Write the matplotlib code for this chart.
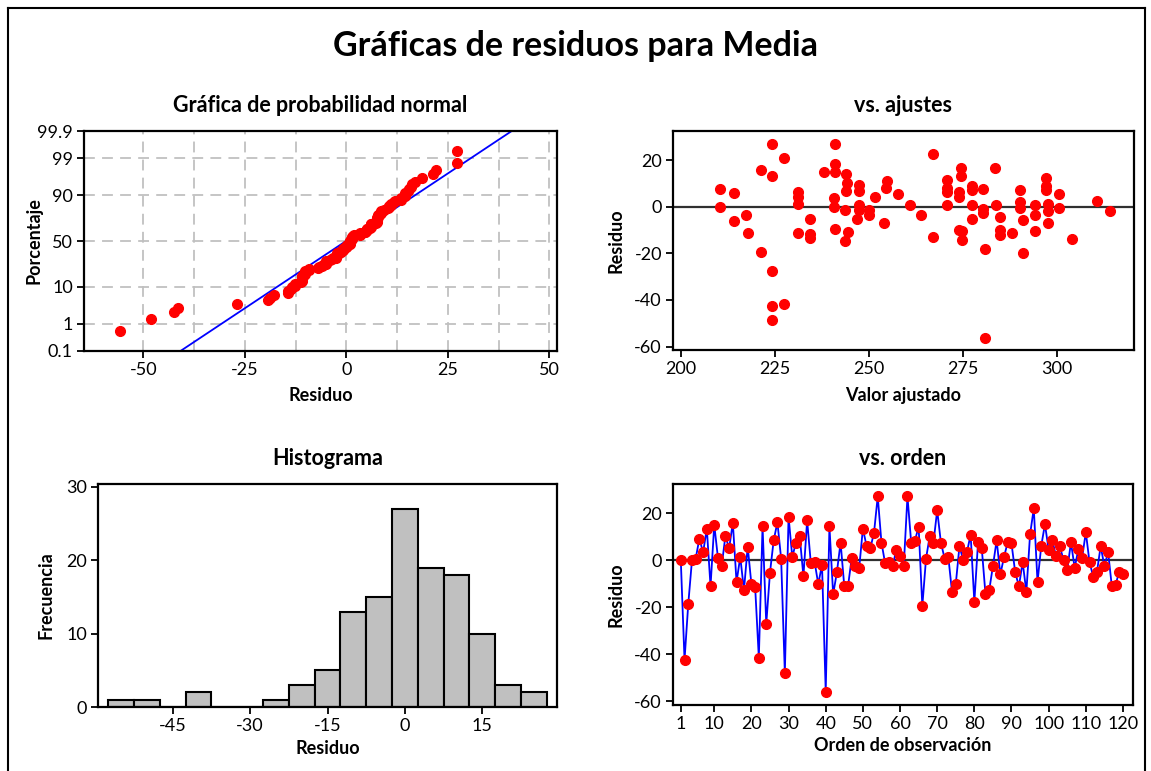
import matplotlib
matplotlib.use("Agg")
import matplotlib.pyplot as plt
from matplotlib.lines import Line2D
import numpy as np
from statistics import NormalDist

plt.rcParams["font.family"] = ["Lato", "DejaVu Sans"]
plt.rcParams["axes.unicode_minus"] = False

# residuals in observation order (read from "vs. orden")
residuos = [
    0, -42.4, -18.7, 0, 0.7, 9.3, 3.4, 13.5, -11, 15.2,
    1, -2.4, 10.4, 5.1, 16, -9.2, 1.5, -12.7, 5.9, -10.1,
    -11.1, -41.4, 14.5, -27, -5.2, 8.6, 16.2, 0.8, -48, 18.6,
    1.5, 7.6, 10.3, -6.8, 17, -1.3, -0.6, -10.1, -1.8, -55.8,
    14.5, -14.4, -5.1, 7.6, -11, -11, 1.1, -2.3, -3.4, 13.5,
    6.1, 5.1, 11.8, 27.2, 7.6, -1.3, -0.8, -2.5, 4.5, 1.8,
    -2.5, 27.2, 7.6, 8.3, 14.4, -19.4, 0.8, 10.4, 7.6, 21.3,
    7.6, 0.8, 1.4, -13.5, -10.1, 6.1, 0.1, 3.4, 11, -17.7,
    7.9, 5.1, -14.4, -12.7, -2.4, 8.5, -5.9, 1.5, 7.9, 7.2,
    -5.1, -11, -0.7, -13.4, 11.1, 22.1, -9.2, 6.1, 15.4, 4.5,
    8.5, 1.7, 6.1, 0.1, -4.1, 7.7, -3.2, 4.8, 1, 12,
    -0.8, -6.9, -4.9, 6.1, -2.5, 3.5, -11, -10.3, -4.9, -5.8,
]

# points of "vs. ajustes" (fitted value, residual)
ajustados = [
    210.4, 210.4, 214.2, 214.2, 217.4, 217.9, 221.5, 221.5,
    224.2, 224.2, 224.2, 224.2, 224.2, 227.4, 227.4,
    231.2, 231.2, 231.2, 231.2, 234.3, 234.3, 234.3, 238.1,
    241.1, 241.1, 241.1, 240.7, 240.7, 241.1,
    244.1, 244.2, 244.1, 243.8, 244.4, 243.8,
    247.5, 247.5, 247.5, 247.3, 246.9, 250.2, 250.2, 251.8,
    254.8, 254.5, 254.0, 257.7, 260.9, 263.8, 267.2, 267.2,
    270.9, 270.9, 270.9, 270.9,
    274.5, 274.5, 274.0, 274.0, 274.0, 274.7, 274.7,
    277.4, 277.4, 277.4, 277.4,
    280.5, 280.5, 280.5, 280.9, 280.9, 283.6, 283.8,
    284.9, 284.9, 284.9, 288.0,
    290.2, 290.2, 290.2, 291.1, 291.1, 294.2, 294.2, 294.2,
    297.0, 297.0, 297.0, 297.6, 297.6, 297.6, 300.7, 300.7,
    304.0, 310.8, 314.0,
]
resid_ajuste = [
    7.7, 0, 6.1, -6.1, -3.6, -11.4, 15.7, -19.3,
    27.1, 13, -27.8, -42.8, -48.8, 20.9, -41.9,
    6.2, 4.3, 1.2, -11.4, -5.4, -11.6, -13.3, 14.9,
    27.1, 18.4, 14.9, 3.7, 0, -9.5,
    14.1, 10, 6.9, -1.3, -11, -14.6,
    9.5, 6.9, 0.7, -1.5, -5.2, -1.5, -3.4, 4.3,
    11.2, 8, -7, 5.3, 0.9, -3.4, 22.8, -13,
    11.6, 8, 6.5, 0.7,
    16.7, 13, 6.2, 4.3, -10.1, -10.4, -14.5,
    9, 7.2, 0.7, -5.4,
    7.8, -0.9, -2.9, -18.1, -56.5, 16.7, 0.7,
    -4.3, -10.1, -12.3, -11.3,
    7, 2.2, -0.7, -5.8, -20, 0.7, -3.6, -10.4,
    12.3, 9, 7, 1.2, -1.7, -7, 5.4, -0.7,
    -13.9, 2.6, -1.7,
]

# histogram (bin centres, counts)
hist_centros = [-55, -50, -45, -40, -35, -30, -25, -20, -15, -10, -5, 0, 5, 10, 15, 20, 25]
hist_frec = [1, 1, 0, 2, 0, 0, 1, 3, 5, 13, 15, 27, 19, 18, 10, 3, 2]

prob_ticks = [0.1, 1, 10, 50, 90, 99, 99.9]

RED = "#ff0000"
BLUE = "#0000ff"
TICK_FS = 13
LABEL_FS = 13
SUB_FS = 15.5

W, H = 1151, 771
fig = plt.figure(figsize=(W / 100, H / 100), dpi=100)


def px_axes(left, top, right, bottom):
    return fig.add_axes([left / W, 1 - bottom / H, (right - left) / W, (bottom - top) / H])


def style(ax):
    for s in ax.spines.values():
        s.set_linewidth(1.6)
        s.set_color("black")
    ax.tick_params(direction="out", length=5, width=1.3, labelsize=TICK_FS, pad=3)
    ax.tick_params(top=False, right=False)


def labels(ax, xl, yl, title, xy, yx):
    ax.set_xlabel(xl, fontsize=LABEL_FS, fontweight="bold")
    ax.set_ylabel(yl, fontsize=LABEL_FS, fontweight="bold")
    ax.xaxis.set_label_coords(0.5, xy)
    ax.yaxis.set_label_coords(yx, 0.5)
    ax.set_title(title, fontsize=SUB_FS, fontweight="bold", pad=14)


nd = NormalDist()

# 1. normal probability plot
ax1 = px_axes(84, 131, 557, 351)
style(ax1)
res_sorted = np.sort(residuos)
n = len(res_sorted)
pct = (np.arange(1, n + 1) - 0.3) / (n + 0.4)
z = np.array([nd.inv_cdf(p) for p in pct])
mu = np.mean(residuos)
sd = np.std(residuos, ddof=1)
zlo, zhi = nd.inv_cdf(0.001), nd.inv_cdf(0.999)
ax1.plot([mu + sd * zlo, mu + sd * zhi], [zlo, zhi], color=BLUE, lw=1.3, zorder=2)
ax1.plot(res_sorted, z, "o", color=RED, ms=7, mec=RED, zorder=3)
ax1.set_xlim(-64.6, 51.9)
ax1.set_ylim(zlo, zhi)
ax1.set_xticks([-50, -25, 0, 25, 50])
zt = [nd.inv_cdf(p / 100) for p in prob_ticks]
ax1.set_yticks(zt)
ax1.set_yticklabels([str(p) for p in prob_ticks])
for g in np.arange(-50, 51, 12.5):
    ax1.axvline(g, color="#c0c0c0", lw=1.3, ls=(0, (6, 4)), zorder=1)
for g in zt[1:-1]:
    ax1.axhline(g, color="#c0c0c0", lw=1.3, ls=(0, (6, 4)), zorder=1)
labels(ax1, "Residuo", "Porcentaje", "Gráfica de probabilidad normal", -0.165, -0.088)

# 2. residuals vs fits
ax2 = px_axes(673, 131, 1134, 350)
style(ax2)
ax2.axhline(0, color="#303030", lw=1.6, zorder=1)
ax2.plot(ajustados, resid_ajuste, "o", color=RED, ms=7, mec=RED, zorder=3)
ax2.set_xlim(198, 320.5)
ax2.set_ylim(-61.5, 32.5)
ax2.set_xticks([200, 225, 250, 275, 300])
ax2.set_yticks([-60, -40, -20, 0, 20])
labels(ax2, "Valor ajustado", "Residuo", "vs. ajustes", -0.17, -0.105)

# 3. histogram
ax3 = px_axes(98, 484, 557, 707)
style(ax3)
ax3.bar(hist_centros, hist_frec, width=5, color="#c0c0c0", edgecolor="black", lw=1.5, zorder=2)
ax3.set_xlim(-59.5, 29.5)
ax3.set_ylim(0, 30.4)
ax3.set_xticks([-45, -30, -15, 0, 15])
ax3.set_yticks([0, 10, 20, 30])
labels(ax3, "Residuo", "Frecuencia", "Histograma", -0.148, -0.094)

# 4. residuals vs order
ax4 = px_axes(673, 484, 1133, 705)
style(ax4)
obs = np.arange(1, len(residuos) + 1)
ax4.axhline(0, color="#303030", lw=1.6, zorder=1)
ax4.plot(obs, residuos, "-", color=BLUE, lw=1.3, zorder=2)
ax4.plot(obs, residuos, "o", color=RED, ms=7, mec=RED, zorder=3)
ax4.set_xlim(-1.1, 122.7)
ax4.set_ylim(-61.5, 32.5)
ax4.set_xticks([1, 10, 20, 30, 40, 50, 60, 70, 80, 90, 100, 110, 120])
ax4.set_yticks([-60, -40, -20, 0, 20])
labels(ax4, "Orden de observación", "Residuo", "vs. orden", -0.145, -0.105)

fig.text(0.5, 1 - 46 / H, "Gráficas de residuos para Media", ha="center", va="center",
         fontsize=24.5, fontweight="bold")

# outer frame
for xs, ys in [([8, 8], [8, 771]), ([8, 1145], [8, 8]), ([1145, 1145], [8, 771])]:
    fig.add_artist(Line2D([x / W for x in xs], [1 - y / H for y in ys], color="black", lw=1.5))

fig.savefig("out.png", dpi=100)
